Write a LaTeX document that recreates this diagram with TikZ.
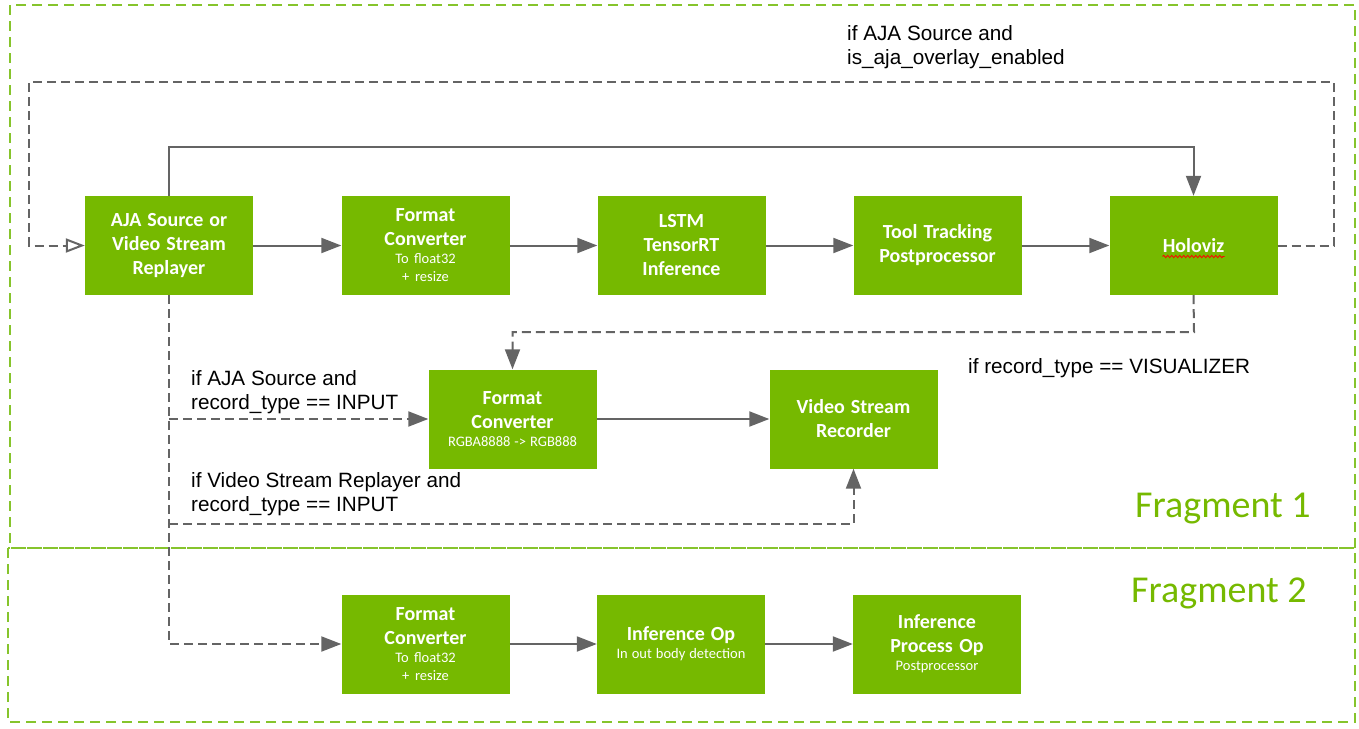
\documentclass[tikz,border=0pt]{standalone}
\usepackage{fontspec}
\setmainfont{Liberation Sans}
\newfontfamily\boxfont{Carlito}
\usetikzlibrary{arrows.meta,decorations.pathmorphing}
\definecolor{nvgreen}{RGB}{118,185,0}
\definecolor{framegreen}{RGB}{134,196,44}
\definecolor{wiregray}{RGB}{100,100,100}
\newcommand{\opnote}[1]{{\mdseries\fontsize{14.5}{18}\selectfont\spaceskip=0pt\xspaceskip=0pt #1\par}}
\begin{document}
\begin{tikzpicture}[x=1pt,y=-1pt,
  opbox/.style={fill=nvgreen, text=white, minimum width=168pt, minimum height=99pt,
    text width=164pt, inner sep=0pt, align=center,
    font=\boxfont\bfseries\fontsize{20}{24}\selectfont,
    execute at begin node={\spaceskip=0pt\xspaceskip=0pt}},
  flow/.style={draw=wiregray, line width=2pt, -{Triangle[length=20pt,width=15pt]}},
  cond/.style={dash pattern=on 9pt off 5pt},
  framebox/.style={draw=framegreen, line width=2pt, dash pattern=on 10pt off 6pt},
  condtext/.style={inner sep=0pt, align=left, anchor=west, font=\fontsize{20.7}{24.5}\selectfont},
  fragtext/.style={inner sep=0pt, anchor=base west, text=nvgreen, font=\boxfont\fontsize{38}{40}\selectfont},
  spellmark/.style={draw=red, line width=0.8pt, decorate,
    decoration={snake, segment length=4pt, amplitude=1.2pt}}]
\useasboundingbox (0,0) rectangle (1359,728);
% fragment frames
\draw[framebox] (10,5) rectangle (1355,548);
\draw[framebox] (8,548) rectangle (1355,722);
\node[fragtext] (frag1) at (1135,517) {Fragment 1};
\node[fragtext] (frag2) at (1131,602) {Fragment 2};
% fragment 1 operators
\node[opbox] (src) at (169,245.5) {AJA Source or\\Video Stream\\Replayer};
\node[opbox] (fc1) at (425.5,245.5) {Format\\Converter\par\opnote{To float32\\+ resize}};
\node[opbox] (lstm) at (681.5,245.5) {LSTM\\TensorRT\\Inference};
\node[opbox] (ttp) at (937.5,245.5) {Tool Tracking\\Postprocessor};
\node[opbox] (holo) at (1193.5,245.5) {Holoviz};
\node[opbox] (fc2) at (512.5,419) {Format\\Converter\par\opnote{RGBA8888 -> RGB888}};
\node[opbox] (rec) at (853.5,419) {Video Stream\\Recorder};
% fragment 2 operators
\node[opbox] (fc3) at (425.5,644) {Format\\Converter\par\opnote{To float32\\+ resize}};
\node[opbox] (inf) at (681,644) {Inference Op\par\opnote{In out body detection}};
\node[opbox] (ipp) at (937,644) {Inference\\Process Op\par\opnote{Postprocessor}};
\draw[spellmark] ([xshift=-31pt,yshift=-11pt]holo.center) -- ([xshift=31pt,yshift=-11pt]holo.center);
% conditions
\node[condtext] (ajaoverlay) at (847,47) {if AJA Source and\\is\_aja\_overlay\_enabled};
\node[condtext] (ajainput) at (191,392) {if AJA Source and\\record\_type == INPUT};
\node[condtext] (replayinput) at (191,494) {if Video Stream Replayer and\\record\_type == INPUT};
\node[inner sep=0pt, anchor=base west, font=\fontsize{20.7}{24.5}\selectfont] (vizrec) at (968,373) {if record\_type == VISUALIZER};
% bend points
\coordinate (bypass) at (169,147);
\coordinate (loopr) at (1334,82);
\coordinate (loopl) at (29,82);
\coordinate (vizbus) at (1194,332);
\coordinate (rectap) at (169,524);
% main pipeline
\draw[flow] (src) -- (fc1);
\draw[flow] (fc1) -- (lstm);
\draw[flow] (lstm) -- (ttp);
\draw[flow] (ttp) -- (holo);
\draw[flow] (src.north) -- (bypass) -| (holo.north);
\draw[flow, cond, -{Triangle[open,length=19pt,width=14pt]}] (holo.east) -| (loopr) -- (loopl) |- (src.west);
% recording
\draw[flow, cond] (holo.south) -- (vizbus) -| (fc2.north);
\draw[flow, cond] (src.south) |- (fc3.west);
\draw[flow, cond] (src.south |- fc2.west) -- (fc2.west);
\draw[flow, cond] (rectap) -| (rec.south);
\draw[flow] (fc2) -- (rec);
% fragment 2 pipeline
\draw[flow] (fc3) -- (inf);
\draw[flow] (inf) -- (ipp);
\end{tikzpicture}
\end{document}
